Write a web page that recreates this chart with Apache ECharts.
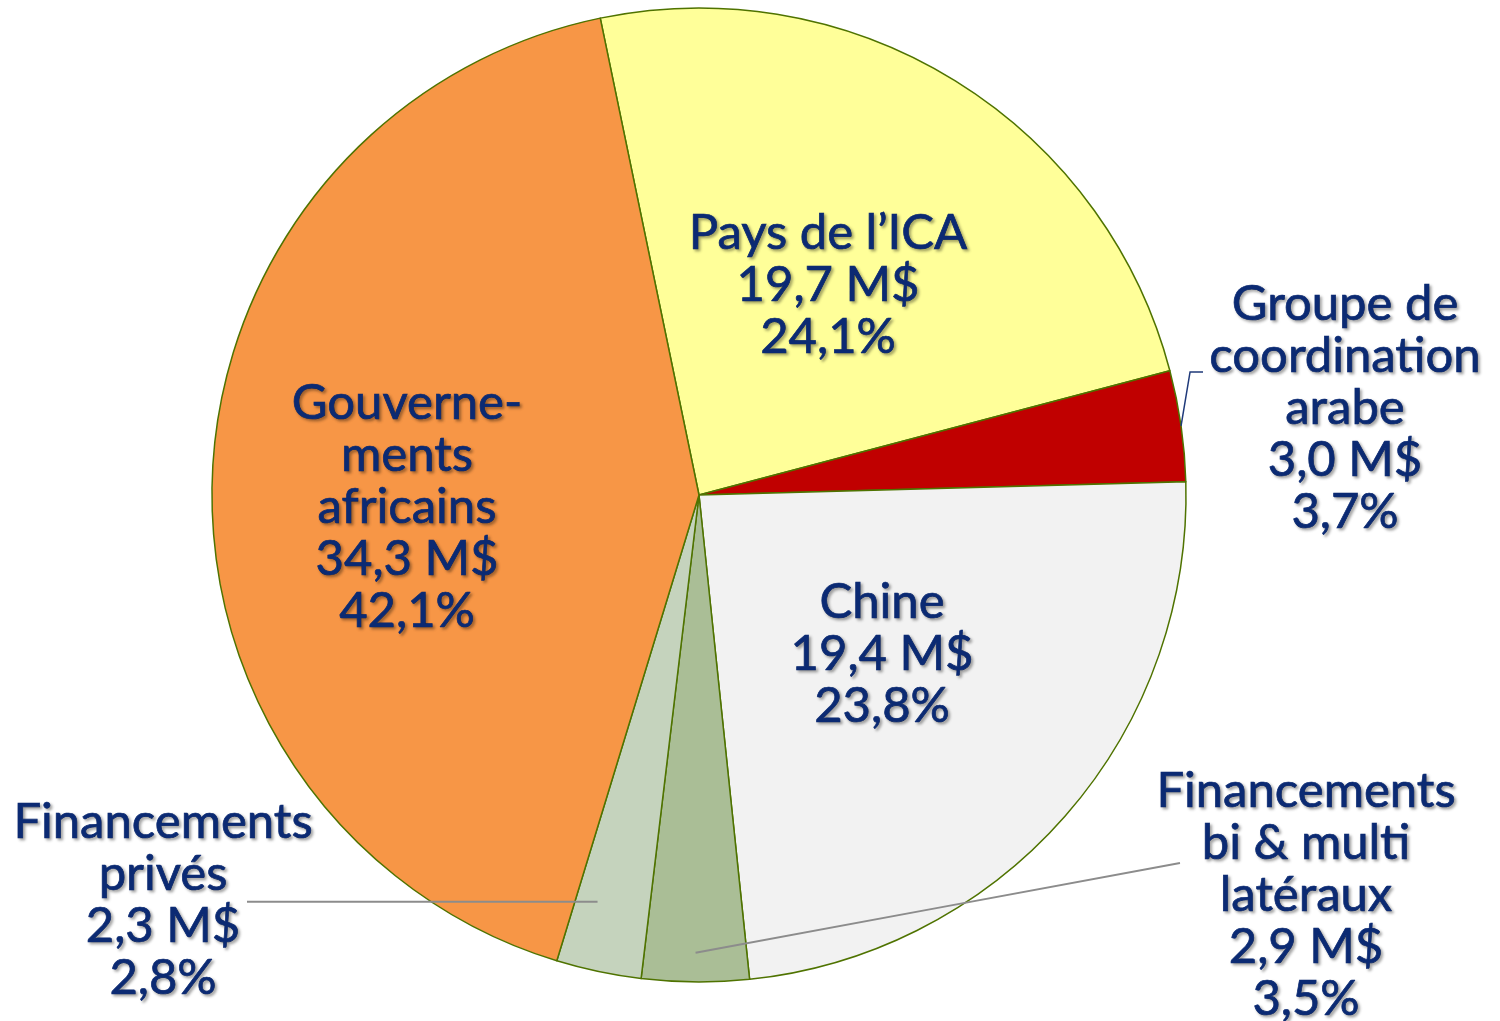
<!DOCTYPE html>
<html>
<head>
<meta charset="utf-8">
<script src="https://cdn.jsdelivr.net/npm/echarts@6/dist/echarts.min.js"></script>
<style>
html,body{margin:0;padding:0;background:#fff;}
#chart{width:1500px;height:1021px;}
</style>
</head>
<body>
<div id="chart"></div>
<script>
// ---- data ----
const categories = [
  "Pays de l\u2019ICA",
  "Groupe de\ncoordination\narabe",
  "Chine",
  "Financements\nbi & multi\nlatéraux",
  "Financements\nprivés",
  "Gouverne-\nments\nafricains"
];
const valuesMUSD = [19.7, 3.0, 19.4, 2.9, 2.3, 34.3];
const percentLabels = ["24,1%", "3,7%", "23,8%", "3,5%", "2,8%", "42,1%"];

// ---- styles / layout (not data) ----
const colors = ["#FFFF99", "#C00000", "#F2F2F2", "#AABE96", "#C5D3BD", "#F79646"];
const CX = 699, CY = 495, R = 487;
const labelPos = [
  {x: 828, y: 285},
  {x: 1345, y: 408},
  {x: 882, y: 654},
  {x: 1306, y: 895},
  {x: 163, y: 900},
  {x: 407, y: 507}
];
const outsideIdx = [1, 3, 4];

const fmt = v => v.toFixed(1).replace('.', ',') + ' M$';

const chart = echarts.init(document.getElementById('chart'), null, {renderer: 'canvas'});

const sectorData = categories.map((name, i) => ({
  name: name,
  value: valuesMUSD[i],
  itemStyle: {color: colors[i]}
}));

const labelData = categories.map((name, i) => {
  const outside = outsideIdx.indexOf(i) >= 0;
  return {
    name: name,
    value: valuesMUSD[i],
    label: {position: outside ? 'outside' : 'inside'},
    labelLine: {
      show: outside,
      lineStyle: {
        color: i === 1 ? '#1F3A7A' : '#8C8C8C',
        width: i === 1 ? 1.5 : 2
      }
    }
  };
});

const common = {
  type: 'pie',
  center: [CX, CY],
  radius: R,
  startAngle: 101.7,
  clockwise: true,
  avoidLabelOverlap: false,
  silent: true
};

function anchor(e, k, rotDeg) {
  const ux = e[0] - CX, uy = e[1] - CY;
  const t = rotDeg * Math.PI / 180;
  const rx = ux * Math.cos(t) - uy * Math.sin(t);
  const ry = ux * Math.sin(t) + uy * Math.cos(t);
  return [CX + rx * k, CY + ry * k];
}

chart.setOption({
  animation: false,
  backgroundColor: '#ffffff',
  series: [
    Object.assign({}, common, {
      z: 2,
      data: sectorData,
      itemStyle: {borderColor: '#4F7300', borderWidth: 1.5},
      label: {show: false},
      labelLine: {show: false}
    }),
    Object.assign({}, common, {
      z: 5,
      data: labelData,
      itemStyle: {color: 'rgba(0,0,0,0)', borderWidth: 0},
      label: {
        show: true,
        formatter: p => p.name + '\n' + fmt(p.value) + '\n' + percentLabels[p.dataIndex],
        color: '#0B2A73',
        fontFamily: 'Lato',
        fontSize: 49,
        lineHeight: 52,
        align: 'center',
        textBorderColor: '#0B2A73',
        textBorderWidth: 0.7,
        textShadowColor: 'rgba(0,0,0,0.35)',
        textShadowBlur: 3,
        textShadowOffsetX: 2,
        textShadowOffsetY: 2
      },
      labelLine: {show: true, length: 10, length2: 10},
      labelLayout: function (params) {
        const i = params.dataIndex;
        const pos = labelPos[i];
        const out = {x: pos.x, y: pos.y, align: 'center', verticalAlign: 'middle'};
        const pts = params.labelLinePoints;
        if (pts && outsideIdx.indexOf(i) >= 0) {
          const e = pts[0];
          if (i === 1) {
            out.labelLinePoints = [[e[0], e[1]], [e[0] + 9, 372], [1203, 372]];
          } else if (i === 4) {
            const a = anchor(e, 0.861, 2.1);
            out.labelLinePoints = [a, [(a[0] + 247) / 2, a[1]], [247, a[1]]];
          } else if (i === 3) {
            const a = anchor(e, 0.94, 0);
            out.labelLinePoints = [a, [(a[0] + 1180) / 2, (a[1] + 863) / 2], [1180, 863]];
          }
        }
        return out;
      }
    })
  ]
});
</script>
</body>
</html>
